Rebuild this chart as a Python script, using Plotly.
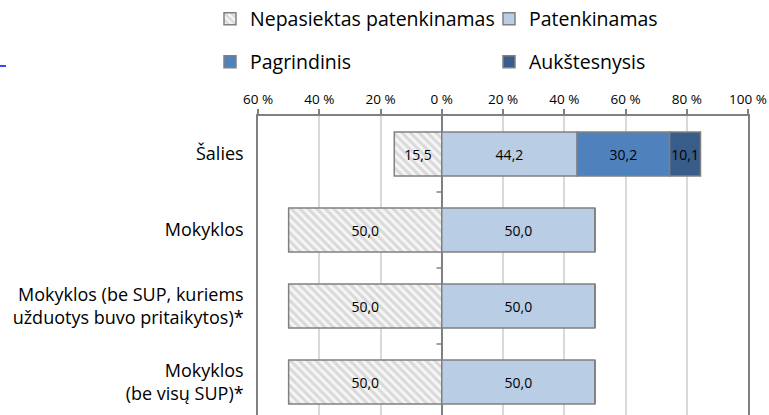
import plotly.graph_objects as go

categories = ["Šalies", "Mokyklos", "Mokyklos (be SUP, kuriems<br>užduotys buvo pritaikytos)*", "Mokyklos<br>(be visų SUP)*"]
nepasiektas = [15.5, 50.0, 50.0, 50.0]
patenkinamas = [44.2, 50.0, 50.0, 50.0]
pagrindinis = [30.2, 0, 0, 0]
aukstesnysis = [10.1, 0, 0, 0]
tick_vals = [-60, -40, -20, 0, 20, 40, 60, 80, 100]
tick_text = ["60 %", "40 %", "20 %", "0 %", "20 %", "40 %", "60 %", "80 %", "100 %"]

FONT = "Open Sans"
BORDER = "#808080"

L, R, T = 258, 748, 116
W, H = 769, 415
PW, PH = R - L, H - T


def px_x(p):
    return (p - L) / PW


def px_y(p):
    return (H - p) / PH


def fmt(vals):
    return [(f"{v:.1f}".replace(".", ",") if v else "") for v in vals]


fig = go.Figure()
fig.add_trace(go.Bar(
    y=categories, x=[-v for v in nepasiektas], orientation="h", name="Nepasiektas patenkinamas",
    text=fmt(nepasiektas),
    marker=dict(color="white", line=dict(color=BORDER, width=1.5),
                pattern=dict(shape="\\", fgcolor="#BBBBBB", bgcolor="#F6F6F6", size=6, solidity=0.5)),
    legend="legend",
))
fig.add_trace(go.Bar(
    y=categories, x=patenkinamas, orientation="h", name="Patenkinamas",
    text=fmt(patenkinamas),
    marker=dict(color="#B9CDE5", line=dict(color=BORDER, width=1.5)),
    legend="legend2",
))
fig.add_trace(go.Bar(
    y=categories, x=pagrindinis, orientation="h", name="Pagrindinis",
    text=fmt(pagrindinis),
    marker=dict(color="#4F81BD", line=dict(color=BORDER, width=1.5)),
    legend="legend3",
))
fig.add_trace(go.Bar(
    y=categories, x=aukstesnysis, orientation="h", name="Aukštesnysis",
    text=fmt(aukstesnysis),
    marker=dict(color="#385D8A", line=dict(color=BORDER, width=1.5)),
    legend="legend4",
))

fig.update_traces(textposition="inside", insidetextanchor="middle",
                  textfont=dict(family=FONT, size=14, color="black"), cliponaxis=False,
                  textangle=0, constraintext="none")

# category tick marks at the zero line (between categories)
for b in [0.5, 1.5, 2.5]:
    fig.add_shape(type="line", xref="x", yref="y", x0=-1.7, x1=0, y0=b, y1=b,
                  line=dict(color=BORDER, width=1.5), layer="above")

# fragment of a hyperlink underline at the far left edge
fig.add_shape(type="line", xref="paper", yref="paper", x0=px_x(0), x1=px_x(6),
              y0=px_y(66), y1=px_y(66), line=dict(color="#0000FF", width=1.5))

legend_common = dict(orientation="h", xanchor="left", yanchor="middle",
                     font=dict(family=FONT, size=19.5, color="black"),
                     bgcolor="rgba(0,0,0,0)", itemwidth=30, borderwidth=0)

col1, col2 = px_x(210), px_x(489)
row1, row2 = px_y(19), px_y(62)

fig.update_layout(
    width=W, height=H,
    margin=dict(l=L, r=W - R, t=T, b=0, autoexpand=False),
    barmode="relative", bargap=0.42,
    plot_bgcolor="white", paper_bgcolor="white",
    font=dict(family=FONT, color="black"),
    showlegend=True,
    legend=dict(x=col1, y=row1, **legend_common),
    legend2=dict(x=col2, y=row1, **legend_common),
    legend3=dict(x=col1, y=row2, **legend_common),
    legend4=dict(x=col2, y=row2, **legend_common),
    xaxis=dict(side="top", range=[-60, 100], tickvals=tick_vals, ticktext=tick_text,
               showgrid=True, gridcolor="#D9D9D9", gridwidth=1.5,
               showline=True, linecolor=BORDER, linewidth=1.5, mirror=False,
               ticks="outside", ticklen=5, tickcolor=BORDER, tickwidth=1.5,
               tickfont=dict(family=FONT, size=13.5, color="black"),
               zeroline=True, zerolinecolor=BORDER, zerolinewidth=1.5, fixedrange=True,
               automargin=False),
    yaxis=dict(type="category", range=[3.434, -0.5], showgrid=False,
               showline=True, linecolor=BORDER, linewidth=1.5, mirror=True,
               ticks="", ticklabelstandoff=9,
               tickfont=dict(family=FONT, size=18, color="black"), fixedrange=True,
               automargin=False),
)

fig.write_html("out.html", config={"displayModeBar": False},
               post_script="document.body.style.margin='0';")
